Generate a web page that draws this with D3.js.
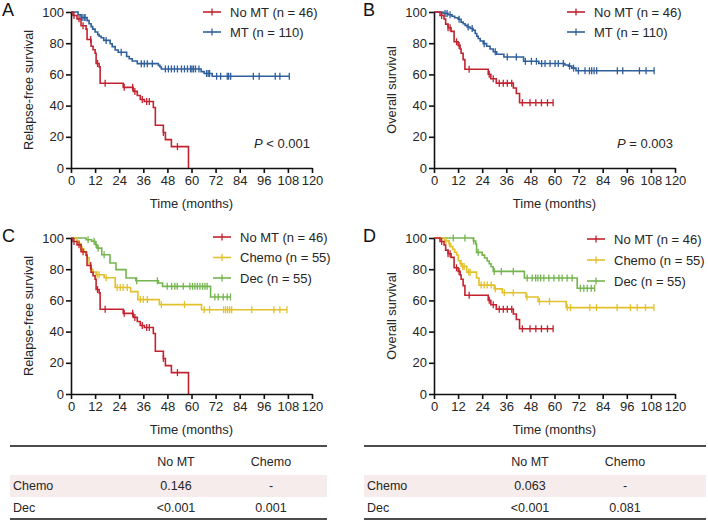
<!DOCTYPE html>
<html>
<head>
<meta charset="utf-8">
<script src="https://cdn.jsdelivr.net/npm/d3@7"></script>
<style>
  body { margin: 0; background: #fff; }
  svg { font-family: "Liberation Sans", Arial, sans-serif; }
</style>
</head>
<body>
<svg id="fig" width="708" height="522"></svg>
<script>
// axis ticks
const timeTicks = [0, 12, 24, 36, 48, 60, 72, 84, 96, 108, 120];
const survTicks = [0, 20, 40, 60, 80, 100];

// group labels
const groupNames = ["No MT (n = 46)", "MT (n = 110)", "Chemo (n = 55)", "Dec (n = 55)"];

// Kaplan-Meier steps [month, survival %] and censor times (months)
const noMtRfsSteps = [[0,100],[1,97.8],[3,95.6],[5,91.2],[7.5,89],[8,82.4],[10,78],[11,75.8],[12,73.6],[12.5,67],[14,64.8],[14.5,54.3],[26,51.7],[31,49.1],[33,46.5],[34.5,43.9],[36.5,42.6],[41,38.8],[42,27.4],[46,22.8],[47,18.2],[50,13.7],[58.5,0]];
const noMtRfsCensor = [1.5, 4, 6, 9.8, 13.2, 17, 26.5, 30.7, 31.8, 35.5, 37.7, 39, 46, 53];

const mtRfsSteps = [[0,100],[3.5,98.2],[5,96.4],[8,94.5],[9,92.5],[10,90.6],[10.8,89],[12,87.2],[13.3,85.5],[14,84.5],[15,83.5],[16.3,81.8],[19.5,79.6],[20.5,77.8],[22,75.6],[23.5,74.2],[27.7,71.5],[29,70],[30.5,68.6],[33,66.9],[43.5,65.8],[44.3,64.7],[45,63.5],[64.8,61.8],[66.3,60.6],[70.3,58.8]];
const mtRfsCensor = [5.5, 6.5, 7, 17.5, 25, 35, 36.5, 38, 40.5, 47, 48.5, 50, 51.5, 53, 55, 56.5, 58, 59.5, 60.2, 61, 62, 63.7, 67.5, 68.3, 69, 72.5, 74.5, 77.8, 78.5, 79.5, 90.8, 93.7, 101.7, 104, 108.7];

const noMtOsSteps = [[0,100],[3,97.8],[5,95.5],[5.8,92.2],[7,89.9],[8.5,87.6],[10,80.9],[12,78.6],[13,76.3],[13.5,73.6],[14.5,69.5],[15.4,63.3],[27,60.1],[28.3,57.2],[31,54.4],[39.5,51.3],[41,47.8],[42.6,41.8]];
const noMtOsCensor = [3.8, 7, 8, 11.2, 12.5, 17.5, 27.5, 29.5, 32.5, 34.5, 36.5, 38.7, 44, 47.8, 50.7, 53.5, 56.5, 59.3];

const mtOsSteps = [[0,100],[4.5,99.1],[7,98.2],[9,97.3],[10.3,96.3],[12,95.4],[13.5,93.5],[14.5,92.5],[15.5,91.4],[16.5,90.4],[18,89.4],[19.5,88.3],[20.5,86.2],[21.3,84.5],[22,83],[23,81.4],[24.5,79.7],[26.2,78],[27.9,76.3],[29.5,74.5],[31.2,72.9],[34.8,71.2],[44.6,68.4],[52.2,67],[65.2,66],[66.9,65.3],[68.6,64],[70.7,62.3]];
const mtOsCensor = [5.5, 6.5, 8, 12.5, 17, 19, 25, 30.5, 36.5, 41, 45.5, 48.5, 51, 53.6, 55.3, 57.8, 60.3, 61.9, 64.4, 67.5, 69.5, 71.9, 75.2, 77.4, 78.5, 79.7, 81, 91.3, 94, 102.3, 105.6, 109.6];

const chemoRfsSteps = [[0,100],[3,98.2],[4,96.4],[5,92.7],[6.5,90.9],[8,87.3],[9,83.6],[9.7,80],[10.5,78.2],[12.5,76.4],[16.5,74.5],[22,68.3],[29.7,65.6],[33.3,60.5],[44,57.3],[65,54]];
const chemoRfsCensor = [5.5, 11, 13, 14, 17.5, 23, 24.5, 26, 28, 34.5, 36, 38, 45, 56.5, 66.3, 69, 76, 77, 78, 79, 80, 90, 101, 104, 107.5];

const decRfsSteps = [[0,100],[7.5,98.9],[10.3,97.9],[12,95.8],[13,93.5],[15.3,89.3],[19.4,84],[22.4,79.7],[27.4,74.4],[32.3,72.6],[43.5,71.2],[45.6,69],[69.5,62.2]];
const decRfsCensor = [8.5, 11.5, 12.5, 13.5, 16.5, 32.7, 43, 47.9, 50.1, 51.7, 52.9, 55.9, 59.2, 60.5, 61.7, 62.9, 64.2, 65.5, 66.7, 67.8, 71.6, 73.3, 75.8, 77.8, 79.4];

const chemoOsSteps = [[0,100],[5.3,98.2],[7.5,96.4],[8.3,94.5],[9.3,92.7],[10.3,90.9],[11.3,89.1],[12.1,85.4],[13,83.6],[14,81.8],[16.3,78.1],[21.2,74.4],[22.4,69.8],[30,67.4],[34,64.9],[45.8,62.2],[51.8,59.3],[65.8,55.4]];
const chemoOsCensor = [6, 7.7, 13.5, 14.3, 15, 17.3, 18, 23.5, 25, 26.5, 28.5, 30.5, 35, 39.5, 46.3, 52.5, 57.5, 66.3, 68, 77.6, 80.9, 91.2, 97.8, 101.2, 105.3, 109.5];

const decOsSteps = [[0,100],[19.6,98.1],[20.8,96.2],[21.2,90.8],[24,89],[25.2,87.2],[26.5,85.3],[27.5,83.5],[28.4,81.6],[29.5,78.6],[45,74.4],[71.3,67.8]];
const decOsCensor = [9.6, 15.4, 19.8, 22, 30, 33.5, 39.5, 46.4, 48.9, 50.6, 51.7, 53.1, 54.7, 57.2, 59.7, 62.2, 63.8, 66.3, 68.8, 72.9, 74.6, 76.3, 78.3, 80];

// P values
const pTexts = ["< 0.001", "= 0.003"];
const tableHeader = ["", "No MT", "Chemo"];
const rfsTable = [["Chemo", "0.146", "-"], ["Dec", "<0.001", "0.001"]];
const osTable = [["Chemo", "0.063", "-"], ["Dec", "<0.001", "0.081"]];

const colors = { noMt: "#c3232f", mt: "#2f5f9c", chemo: "#e3c12a", dec: "#74b54f" };
const ink = "#262626";

const svg = d3.select("#fig");

const panels = [
  { letter: "A", left: 71, top: 12, yTitle: "Relapse-free survival", p: pTexts[0],
    legend: { x: 203, y: 12, gap: 20 },
    series: [
      { name: groupNames[0], steps: noMtRfsSteps, censor: noMtRfsCensor, color: colors.noMt },
      { name: groupNames[1], steps: mtRfsSteps, censor: mtRfsCensor, color: colors.mt }
    ] },
  { letter: "B", left: 434, top: 12, yTitle: "Overall survival", p: pTexts[1],
    legend: { x: 567, y: 12, gap: 20 },
    series: [
      { name: groupNames[0], steps: noMtOsSteps, censor: noMtOsCensor, color: colors.noMt },
      { name: groupNames[1], steps: mtOsSteps, censor: mtOsCensor, color: colors.mt }
    ] },
  { letter: "C", left: 71, top: 238, yTitle: "Relapse-free survival",
    legend: { x: 213, y: 237, gap: 20.5 },
    series: [
      { name: groupNames[0], steps: noMtRfsSteps, censor: noMtRfsCensor, color: colors.noMt },
      { name: groupNames[2], steps: chemoRfsSteps, censor: chemoRfsCensor, color: colors.chemo },
      { name: groupNames[3], steps: decRfsSteps, censor: decRfsCensor, color: colors.dec }
    ] },
  { letter: "D", left: 434, top: 238, yTitle: "Overall survival",
    legend: { x: 587, y: 239, gap: 21 },
    series: [
      { name: groupNames[0], steps: noMtOsSteps, censor: noMtOsCensor, color: colors.noMt },
      { name: groupNames[2], steps: chemoOsSteps, censor: chemoOsCensor, color: colors.chemo },
      { name: groupNames[3], steps: decOsSteps, censor: decOsCensor, color: colors.dec }
    ] }
];

const plotW = 241, plotH = 156;
const bisect = d3.bisector(d => d[0]).right;

function survAt(steps, t) {
  return steps[Math.max(0, bisect(steps, t) - 1)][1];
}

panels.forEach(p => {
  const g = svg.append("g");
  const x = d3.scaleLinear().domain([0, 120]).range([p.left, p.left + plotW]);
  const y = d3.scaleLinear().domain([0, 100]).range([p.top + plotH, p.top]);

  // curves, last series drawn first so No MT sits on top
  p.series.slice().reverse().forEach(s => {
    const last = s.steps[s.steps.length - 1];
    const end = Math.max(d3.max(s.censor), last[0]);
    const pts = s.steps.concat([[end, last[1]]]);
    const line = d3.line().x(d => x(d[0])).y(d => y(d[1])).curve(d3.curveStepAfter);
    g.append("path")
      .attr("d", line(pts))
      .attr("fill", "none")
      .attr("stroke", s.color)
      .attr("stroke-width", 1.6);
    g.selectAll(null)
      .data(s.censor)
      .enter()
      .append("line")
      .attr("x1", d => x(d)).attr("x2", d => x(d))
      .attr("y1", d => y(survAt(s.steps, d)) - 3.5)
      .attr("y2", d => y(survAt(s.steps, d)) + 3.5)
      .attr("stroke", s.color)
      .attr("stroke-width", 1.3);
  });

  // axes
  const xAxis = g.append("g")
    .attr("transform", `translate(0,${y(0)})`)
    .call(d3.axisBottom(x).tickValues(timeTicks).tickSize(5).tickSizeOuter(0).tickPadding(3));
  const yAxis = g.append("g")
    .attr("transform", `translate(${x(0)},0)`)
    .call(d3.axisLeft(y).tickValues(survTicks).tickSize(5).tickSizeOuter(0).tickPadding(2));
  [xAxis, yAxis].forEach(a => {
    a.selectAll("path, line").attr("stroke", "#111").attr("stroke-width", 1.6);
    a.selectAll("text").attr("font-size", 13).attr("fill", ink)
      .style("font-family", '"Liberation Sans", Arial, sans-serif');
  });

  g.append("text")
    .attr("x", x(60)).attr("y", y(0) + 40)
    .attr("text-anchor", "middle")
    .attr("font-size", 13).attr("fill", ink)
    .text("Time (months)");

  g.append("text")
    .attr("transform", `translate(${p.left - 38},${p.top + plotH / 2}) rotate(-90)`)
    .attr("text-anchor", "middle")
    .attr("font-size", 12.8).attr("fill", ink)
    .text(p.yTitle);

  g.append("text")
    .attr("x", p.left - 69 + (p.left > 300 ? -2 : 0)).attr("y", p.top + 4)
    .attr("font-size", 18).attr("fill", "#111")
    .text(p.letter);

  // legend
  const leg = g.selectAll(".leg")
    .data(p.series)
    .enter()
    .append("g")
    .attr("transform", (d, i) => `translate(${p.legend.x},${p.legend.y + i * p.legend.gap})`);
  leg.append("line").attr("x1", 0).attr("x2", 18)
    .attr("stroke", d => d.color).attr("stroke-width", 1.6);
  leg.append("line").attr("x1", 9).attr("x2", 9).attr("y1", -3.5).attr("y2", 3.5)
    .attr("stroke", d => d.color).attr("stroke-width", 1.3);
  leg.append("text").attr("x", 27).attr("dy", "0.35em")
    .attr("font-size", 13).attr("fill", ink)
    .text(d => d.name);

  if (p.p) {
    const t = g.append("text")
      .attr("x", x(120) - 2).attr("y", y(0) - 20)
      .attr("text-anchor", "end")
      .attr("font-size", 13).attr("fill", ink);
    t.append("tspan").attr("font-style", "italic").text("P");
    t.append("tspan").text(" " + p.p);
  }
});

// pairwise comparison tables under C and D
function drawTable(left, width, rows) {
  const g = svg.append("g");
  const cols = [left + 3, left + 166, left + 261];
  g.append("rect").attr("x", left).attr("y", 475).attr("width", width).attr("height", 22)
    .attr("fill", "#f7ecec");
  [446, 519].forEach(yy => g.append("line")
    .attr("x1", left).attr("x2", left + width).attr("y1", yy).attr("y2", yy)
    .attr("stroke", "#111").attr("stroke-width", 1.6));
  const all = [tableHeader].concat(rows);
  const rowY = [462, 486, 508];
  all.forEach((r, i) => {
    r.forEach((c, j) => {
      g.append("text")
        .attr("x", cols[j]).attr("y", rowY[i]).attr("dy", "0.35em")
        .attr("text-anchor", j === 0 ? "start" : "middle")
        .attr("font-size", 12.5).attr("fill", ink)
        .text(c);
    });
  });
}
drawTable(10, 317, rfsTable);
drawTable(364, 342, osTable);
</script>
</body>
</html>
